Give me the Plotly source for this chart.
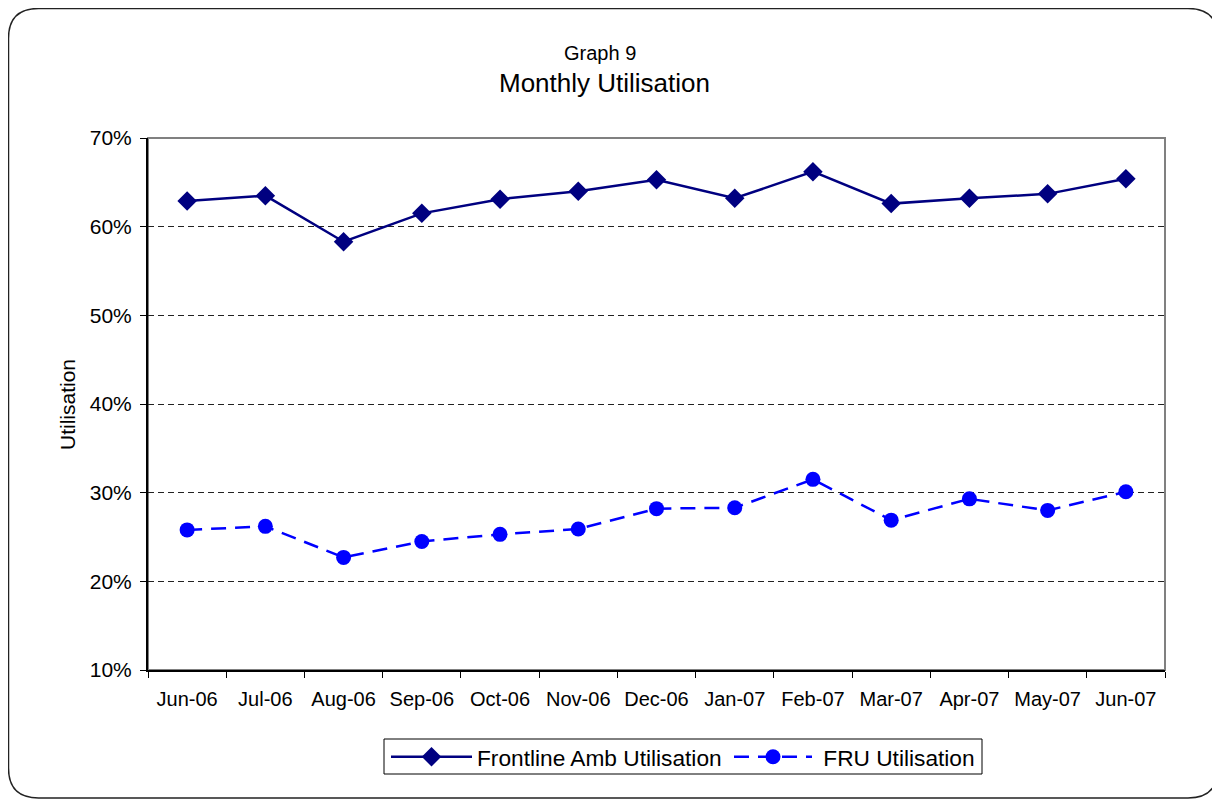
import plotly.graph_objects as go

months = ["Jun-06", "Jul-06", "Aug-06", "Sep-06", "Oct-06", "Nov-06", "Dec-06",
          "Jan-07", "Feb-07", "Mar-07", "Apr-07", "May-07", "Jun-07"]
frontline = [62.9, 63.5, 58.3, 61.5, 63.1, 64.0, 65.3, 63.2, 66.2, 62.6, 63.2, 63.7, 65.4]
fru = [25.8, 26.2, 22.7, 24.5, 25.3, 25.9, 28.2, 28.3, 31.5, 26.9, 29.3, 28.0, 30.1]

# page offset from the default body margin
OFF = 8
W, H = 1220, 800
L, T = 148 - OFF, 138 - OFF
R, B = W - (1165 - OFF), H - (670 - OFF)
pw, ph = W - L - R, H - T - B


def px_x(v):
    # page pixel -> paper x
    return (v - OFF - L) / pw


def px_y(v):
    # page pixel -> paper y
    return (H - B - (v - OFF)) / ph


fig = go.Figure()
fig.add_trace(go.Scatter(
    x=months, y=frontline, name="Frontline Amb Utilisation",
    mode="lines+markers", legend="legend",
    line=dict(color="#000080", width=2.5),
    marker=dict(symbol="diamond", size=15, color="#000080"),
))
fig.add_trace(go.Scatter(
    x=months, y=fru, name=" FRU Utilisation",
    mode="lines+markers", legend="legend2",
    line=dict(color="#0000FF", width=2.5, dash="15px,9px"),
    marker=dict(symbol="circle", size=15, color="#0000FF"),
))

# rounded outer frame
x0, x1 = px_x(8.5), px_x(1218)
y0, y1 = px_y(798), px_y(8.5)
rx, ry = 30 / pw, 30 / ph
frame = (f"M {x0 + rx},{y1} L {x1 - rx},{y1} Q {x1},{y1} {x1},{y1 - ry} "
         f"L {x1},{y0 + ry} Q {x1},{y0} {x1 - rx},{y0} "
         f"L {x0 + rx},{y0} Q {x0},{y0} {x0},{y0 + ry} "
         f"L {x0},{y1 - ry} Q {x0},{y1} {x0 + rx},{y1} Z")

legend_common = dict(
    orientation="h", yanchor="middle", y=px_y(757), xanchor="left",
    borderwidth=0, bgcolor="rgba(0,0,0,0)", font=dict(size=22.7),
)

fig.update_layout(
    width=W, height=H,
    margin=dict(l=L, r=R, t=T, b=B),
    paper_bgcolor="white", plot_bgcolor="white",
    font=dict(family="Liberation Sans, Arial", size=20, color="black"),
    showlegend=True,
    legend=dict(x=px_x(386), itemwidth=81, **legend_common),
    legend2=dict(x=px_x(729), itemwidth=78, **legend_common),
    annotations=[
        dict(text="Graph 9", xref="paper", yref="paper",
             x=px_x(600), y=px_y(53), xanchor="center", yanchor="middle",
             showarrow=False, font=dict(size=20)),
        dict(text="Monthly Utilisation", xref="paper", yref="paper",
             x=px_x(604), y=px_y(83), xanchor="center", yanchor="middle",
             showarrow=False, font=dict(size=26)),
        dict(text="Utilisation", xref="paper", yref="paper", textangle=-90,
             x=px_x(67), y=px_y(405), xanchor="center", yanchor="middle",
             showarrow=False, font=dict(size=21)),
    ],
    shapes=[
        dict(type="rect", xref="paper", yref="paper", x0=0, x1=1, y0=0, y1=1,
             line=dict(color="#808080", width=2), layer="below"),
        dict(type="rect", xref="paper", yref="paper",
             x0=px_x(384), x1=px_x(982), y0=px_y(774), y1=px_y(739),
             line=dict(color="black", width=1), fillcolor="white", layer="below"),
        dict(type="path", xref="paper", yref="paper", path=frame,
             line=dict(color="#222222", width=1.5)),
    ],
)

fig.update_xaxes(
    type="category", range=[-0.5, len(months) - 0.5],
    showgrid=False, showline=True, linecolor="black", linewidth=2,
    ticks="outside", tickson="boundaries", ticklen=6, tickcolor="black",
    tickfont=dict(size=20), ticklabelstandoff=10,
)
fig.update_yaxes(
    range=[10, 70], dtick=10, ticksuffix="%",
    showgrid=True, gridcolor="#222222", griddash="6px,4px", gridwidth=1,
    showline=True, linecolor="black", linewidth=2,
    ticks="outside", ticklen=6, tickcolor="black",
    tickfont=dict(size=21), zeroline=False, ticklabelstandoff=4,
)

fig.write_html("out.html")
